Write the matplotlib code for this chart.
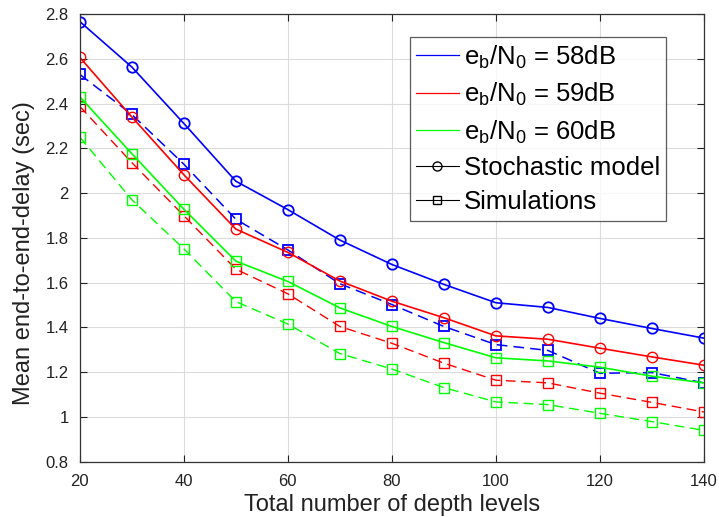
import numpy as np
import matplotlib
matplotlib.use("Agg")
import matplotlib.pyplot as plt
from matplotlib.lines import Line2D

plt.rcParams['font.family'] = ['Liberation Sans', 'DejaVu Sans']
plt.rcParams['mathtext.fontset'] = 'custom'
plt.rcParams['mathtext.rm'] = 'Liberation Sans'

# depth levels
levels = [20, 30, 40, 50, 60, 70, 80, 90, 100, 110, 120, 130, 140]

# stochastic model (solid)
model_58 = [2.766, 2.563, 2.311, 2.053, 1.926, 1.79, 1.681, 1.592, 1.510, 1.489, 1.44, 1.395, 1.352]
model_59 = [2.606, 2.34, 2.082, 1.839, 1.735, 1.607, 1.517, 1.443, 1.362, 1.347, 1.307, 1.268, 1.231]
model_60 = [2.43, 2.176, 1.928, 1.696, 1.605, 1.487, 1.404, 1.332, 1.264, 1.25, 1.222, 1.182, 1.152]

# simulations (dashed)
sim_58 = [2.53, 2.351, 2.129, 1.883, 1.746, 1.595, 1.502, 1.404, 1.323, 1.297, 1.195, 1.198, 1.152]
sim_59 = [2.387, 2.136, 1.899, 1.66, 1.55, 1.404, 1.329, 1.24, 1.164, 1.152, 1.106, 1.065, 1.022]
sim_60 = [2.25, 1.97, 1.751, 1.515, 1.415, 1.283, 1.214, 1.131, 1.067, 1.055, 1.016, 0.979, 0.94]

labels = [r'$\mathrm{e_b/N_0}$ = 58dB', r'$\mathrm{e_b/N_0}$ = 59dB', r'$\mathrm{e_b/N_0}$ = 60dB']
colors = ['#0000ff', '#ff0000', '#00ff00']

fig = plt.figure(figsize=(7.19, 5.17), dpi=100)
ax = fig.add_axes([0.111, 0.107, 0.868, 0.866])

dash = (0, (7, 4))
# blue
ax.plot(levels, model_58, color=colors[0], lw=1.2, marker='o', ms=7.5, mfc='none', mew=1.3)
ax.plot(levels, sim_58, color=colors[0], lw=1.1, ls=dash, marker='s', ms=6.5, mfc='none', mew=1.3)
# red
ax.plot(levels, model_59, color=colors[1], lw=1.2, marker='o', ms=7.5, mfc='none', mew=1.0)
ax.plot(levels, sim_59, color=colors[1], lw=1.0, ls=dash, marker='s', ms=6.5, mfc='none', mew=1.0)
# green (model plotted with squares in the original)
ax.plot(levels, model_60, color=colors[2], lw=1.2, marker='s', ms=6.5, mfc='none', mew=1.0)
ax.plot(levels, sim_60, color=colors[2], lw=1.0, ls=dash, marker='s', ms=6.5, mfc='none', mew=1.0)

ax.set_xlim(20, 140)
ax.set_ylim(0.8, 2.8)
ax.set_xticks(np.arange(20, 141, 20))
ax.set_yticks(np.arange(0.8, 2.81, 0.2))
ax.set_yticklabels(['0.8', '1', '1.2', '1.4', '1.6', '1.8', '2', '2.2', '2.4', '2.6', '2.8'])
ax.grid(True, color='#dcdcdc', lw=0.8)
ax.set_axisbelow(True)
ax.tick_params(direction='in', top=True, right=True, labelsize=12, colors='#222222', length=5)
ax.tick_params(axis='x', pad=9)
ax.tick_params(axis='y', pad=8)
for s in ax.spines.values():
    s.set_color('#333333')
    s.set_linewidth(0.9)

ax.set_xlabel('Total number of depth levels', fontsize=17, color='#222222')
ax.set_ylabel('Mean end-to-end-delay (sec)', fontsize=17, color='#222222')
ax.xaxis.set_label_coords(0.5, -0.072)
ax.yaxis.set_label_coords(-0.072, 0.465)

handles = [Line2D([], [], color=c, lw=0.9) for c in colors]
handles.append(Line2D([], [], color='black', lw=0.8, marker='o', ms=6.5, mfc='none'))
handles.append(Line2D([], [], color='black', lw=0.8, marker='s', ms=5.5, mfc='none'))
leg = ax.legend(handles, labels + ['Stochastic model', 'Simulations'],
                loc='upper right', bbox_to_anchor=(0.94, 0.9485), fontsize=18.5,
                frameon=True, fancybox=False, handlelength=1.65, handletextpad=0.2,
                borderpad=0.25, borderaxespad=0, labelspacing=0.4, edgecolor='#333333')
leg.get_frame().set_linewidth(0.9)

fig.savefig('out.png', dpi=100)
